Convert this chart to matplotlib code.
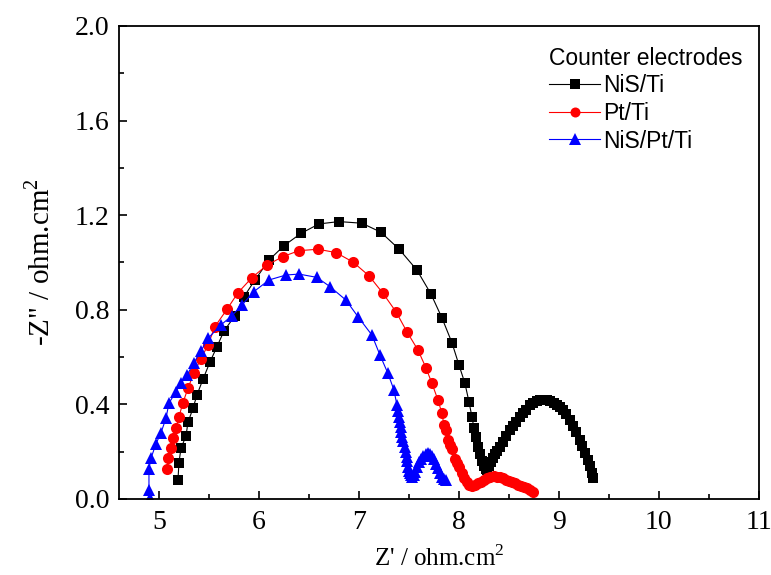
"""
plot.py - Nyquist plot of counter electrodes (NiS/Ti, Pt/Ti, NiS/Pt/Ti).
"""

import matplotlib
matplotlib.use("Agg")
import matplotlib.pyplot as plt
from matplotlib.ticker import MultipleLocator

plt.rcParams["font.family"] = ["Liberation Serif", "DejaVu Serif"]
plt.rcParams["mathtext.fontset"] = "custom"
plt.rcParams["mathtext.rm"] = "Liberation Serif"

# NiS/Ti
nis_x = [5.19, 5.20, 5.22, 5.27, 5.29, 5.34, 5.38, 5.44, 5.51, 5.58, 5.65, 5.76,
         5.85, 5.96, 6.10, 6.25, 6.42, 6.60, 6.80, 7.03, 7.22, 7.40, 7.58, 7.72,
         7.83, 7.93, 8.00, 8.06, 8.10, 8.13, 8.15, 8.17, 8.19, 8.21, 8.23, 8.25,
         8.27, 8.28, 8.30, 8.32, 8.34, 8.36, 8.38, 8.41, 8.44, 8.47, 8.51, 8.54,
         8.57, 8.61, 8.64, 8.67, 8.71, 8.74, 8.78, 8.81, 8.84, 8.88, 8.91, 8.95,
         8.98, 9.01, 9.04, 9.07, 9.11, 9.14, 9.17, 9.21, 9.23, 9.26, 9.29, 9.31,
         9.33, 9.345]
nis_y = [0.080, 0.154, 0.214, 0.266, 0.324, 0.383, 0.440, 0.506, 0.579, 0.644, 0.710, 0.775,
         0.855, 0.926, 1.010, 1.071, 1.123, 1.163, 1.173, 1.166, 1.128, 1.057, 0.968, 0.867,
         0.766, 0.661, 0.567, 0.489, 0.412, 0.348, 0.300, 0.260, 0.220, 0.190, 0.160, 0.140,
         0.125, 0.123, 0.140, 0.157, 0.173, 0.190, 0.205, 0.221, 0.243, 0.265, 0.290, 0.308,
         0.325, 0.348, 0.363, 0.378, 0.397, 0.405, 0.413, 0.418, 0.419, 0.418, 0.413, 0.405,
         0.398, 0.390, 0.375, 0.360, 0.334, 0.310, 0.285, 0.249, 0.225, 0.195, 0.165, 0.140,
         0.110, 0.087]

# Pt/Ti
pt_x = [5.08, 5.09, 5.12, 5.14, 5.17, 5.20, 5.24, 5.29, 5.35, 5.42, 5.49, 5.56,
        5.68, 5.79, 5.93, 6.08, 6.24, 6.40, 6.59, 6.77, 6.94, 7.10, 7.24, 7.37,
        7.48, 7.59, 7.67, 7.73, 7.79, 7.83, 7.85, 7.87, 7.89, 7.91, 7.93, 7.96,
        7.98, 8.00, 8.03, 8.05, 8.08, 8.10, 8.13, 8.16, 8.19, 8.22, 8.25, 8.28,
        8.31, 8.35, 8.38, 8.41, 8.44, 8.47, 8.50, 8.53, 8.56, 8.59, 8.62, 8.65,
        8.68, 8.71, 8.74]
pt_y = [0.127, 0.172, 0.214, 0.257, 0.300, 0.348, 0.407, 0.468, 0.534, 0.593, 0.651, 0.729,
        0.802, 0.872, 0.936, 0.989, 1.025, 1.050, 1.056, 1.042, 1.002, 0.944, 0.870, 0.792,
        0.707, 0.630, 0.555, 0.489, 0.419, 0.362, 0.313, 0.290, 0.250, 0.228, 0.210, 0.170,
        0.151, 0.135, 0.110, 0.090, 0.070, 0.060, 0.055, 0.058, 0.066, 0.073, 0.081, 0.088,
        0.093, 0.097, 0.095, 0.091, 0.087, 0.082, 0.077, 0.071, 0.066, 0.060, 0.055, 0.050,
        0.045, 0.038, 0.031]

# NiS/Pt/Ti
nispt_x = [4.91, 4.90, 4.90, 4.92, 4.97, 5.02, 5.07, 5.10, 5.17, 5.22, 5.28, 5.35,
           5.42, 5.49, 5.62, 5.73, 5.83, 5.95, 6.10, 6.27, 6.40, 6.58, 6.71, 6.87,
           6.99, 7.13, 7.21, 7.29, 7.35, 7.38, 7.39, 7.40, 7.41, 7.42, 7.425, 7.43,
           7.44, 7.46, 7.47, 7.48, 7.485, 7.49, 7.50, 7.51, 7.52, 7.53, 7.55, 7.56,
           7.58, 7.60, 7.62, 7.64, 7.67, 7.69, 7.71, 7.73, 7.75, 7.77, 7.79, 7.81,
           7.83, 7.85, 7.87]
nispt_y = [0.005, 0.040, 0.127, 0.172, 0.233, 0.280, 0.341, 0.405, 0.454, 0.489, 0.524, 0.576,
           0.626, 0.679, 0.736, 0.775, 0.820, 0.877, 0.926, 0.947, 0.951, 0.937, 0.898, 0.841,
           0.771, 0.693, 0.609, 0.531, 0.461, 0.397, 0.370, 0.348, 0.325, 0.306, 0.285, 0.264,
           0.245, 0.221, 0.200, 0.179, 0.160, 0.137, 0.120, 0.110, 0.100, 0.092, 0.100, 0.115,
           0.135, 0.155, 0.170, 0.183, 0.192, 0.195, 0.192, 0.182, 0.168, 0.150, 0.130, 0.110,
           0.095, 0.085, 0.080]

labels = ["NiS/Ti", "Pt/Ti", "NiS/Pt/Ti"]
colors = ["black", "red", "blue"]
markers = ["s", "o", "^"]
sizes = [7.5, 8, 9]

fig = plt.figure(figsize=(7.71, 5.75), dpi=100)
ax = fig.add_axes([0.1543, 0.1322, 0.830, 0.8226])

series = [(nis_x, nis_y), (pt_x, pt_y), (nispt_x, nispt_y)]
for (xs, ys), lab, col, mk, ms in zip(series, labels, colors, markers, sizes):
    ax.plot(xs, ys, color=col, lw=0.8, marker=mk, markersize=ms,
            markeredgewidth=0, label=lab)

ax.set_xlim(4.6, 11)
ax.set_ylim(0, 2.0)
ax.xaxis.set_major_locator(MultipleLocator(1))
ax.xaxis.set_minor_locator(MultipleLocator(0.5))
ax.yaxis.set_major_locator(MultipleLocator(0.4))
ax.yaxis.set_minor_locator(MultipleLocator(0.2))
ax.yaxis.set_major_formatter(plt.FormatStrFormatter("%.1f"))
ax.tick_params(which="both", direction="in", top=False, right=False,
               labelsize=20, width=1.2)
ax.tick_params(which="major", length=6)
ax.tick_params(which="minor", length=3.5)
ax.tick_params(axis="x", pad=8)
ax.tick_params(axis="y", pad=7)
for sp in ax.spines.values():
    sp.set_linewidth(1.3)

ax.set_xlabel("Z' / ohm.cm$^2$", fontsize=18, labelpad=7)
ax.set_ylabel('-Z" / ohm.cm$^2$', fontsize=21, labelpad=14)

leg = ax.legend(title="Counter electrodes", loc="upper right",
                bbox_to_anchor=(1.0, 0.99), frameon=False,
                prop={"family": "Liberation Sans", "size": 16.5},
                handlelength=2.2, handletextpad=0.15, labelspacing=0.2,
                markerscale=0.9, alignment="left", borderaxespad=0.3)
leg.get_title().set_fontfamily("Liberation Sans")
leg.get_title().set_fontsize(16.5)

fig.savefig("out.png", dpi=100)
